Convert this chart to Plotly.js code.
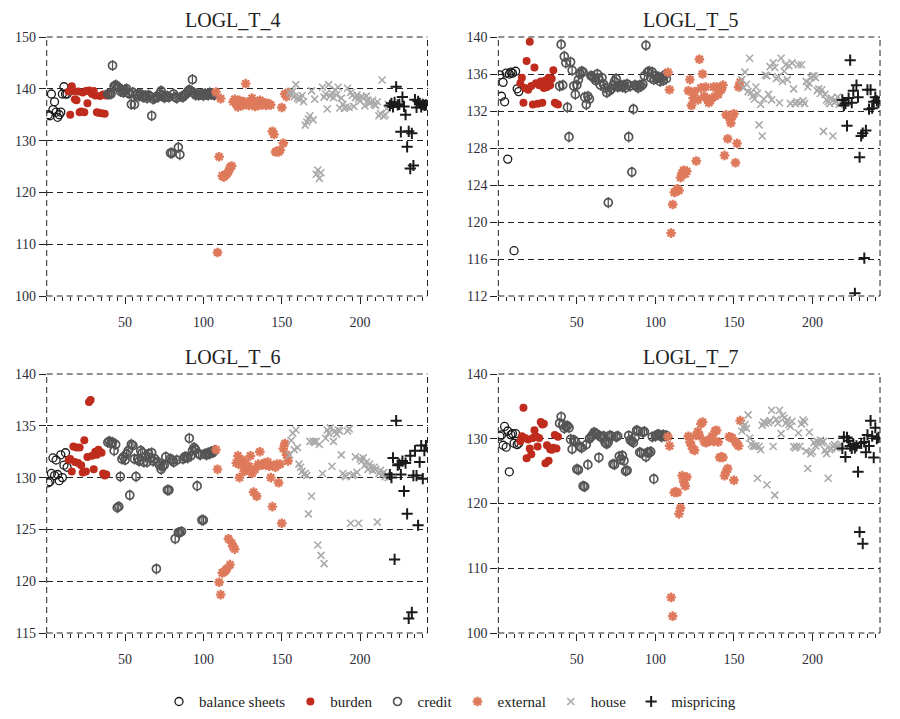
<!DOCTYPE html>
<html>
<head>
<meta charset="utf-8">
<script src="https://cdn.plot.ly/plotly-3.0.1.min.js"></script>
<style>html,body{margin:0;padding:0;background:#fff;}#chart{width:900px;height:719px;}</style>
</head>
<body>
<div id="chart"></div>
<script>
// Categories and first observation index of each category
const categories = ['balance sheets', 'burden', 'credit', 'external', 'house', 'mispricing'];
const catStart = [1, 14, 39, 108, 155, 219];
const panelTitles = ['LOGL_T_4', 'LOGL_T_5', 'LOGL_T_6', 'LOGL_T_7'];
const xTickVals = [50, 100, 150, 200];

// ---- LOGL_T_4 ----
const T4_balance = [135, 134.8, 139, 136, 137.5, 135.5, 134.5, 135, 135.5, 139, 140.4, 139, 139];
const T4_burden = [139.5, 135, 140.5, 139.6, 138, 137.8, 139.5, 135.5, 135.6, 139.3, 135.5, 139.6, 137.2, 139.7, 139.4, 139, 139.6, 138.7, 135.5, 135.4, 138.6, 135.3, 138.9, 135.2, 138.7];
const T4_credit = [139, 139, 139, 144.5, 140.5, 140.7, 140.5, 140.2, 139.5, 139.8,
  139.3, 139.8, 140, 139.2, 139, 137, 139.3, 137, 138.8, 139,
  138.6, 139, 138.5, 138.4, 138.7, 138.2, 138.8, 138.5, 134.8, 138,
  138.2, 138.5, 138.4, 139, 139.6, 138.8, 138.3, 138.5, 138.6, 138.4,
  127.6, 127.6, 139, 138.4, 138.2, 128.7, 127.3, 138.5, 138.4, 138.8,
  139, 139.5, 139.8, 139.6, 141.8, 139.2, 138.8, 139, 138.8, 138.9,
  139, 138.7, 139.1, 138.9, 138.8, 139.2, 138.9, 139, 138.8];
const T4_external = [139.4, 108.4, 126.9, 138.1, 123.2, 123, 123.3, 123.6, 124, 124.8,
  125.1, 137.5, 138, 137, 136.5, 137.8, 137.2, 136.8, 137.5, 141,
  137.3, 136.8, 137.6, 138.2, 137, 136.6, 137.2, 136.8, 137.8, 136.9,
  137.1, 137.3, 136.8, 137.2, 137, 136.9, 131.8, 131.2, 127.8, 128,
  127.8, 128.2, 136.4, 129.5, 139, 138.5, 139.3];
const T4_house = [139.3, 138.8, 139.5, 138.5, 140.8, 138.2, 137.9, 138.2, 138.7, 137.5,
  133, 133.6, 134.2, 134.8, 139.6, 134, 138, 123.5, 124.3, 122.7,
  123.8, 140.3, 138.4, 139, 136.1, 140.8, 138.6, 139.2, 138.3, 139.8,
  138.8, 140.3, 136.3, 138.2, 137, 136.2, 136.5, 140.1, 136.4, 139.3,
  138.7, 136.6, 138.3, 138.8, 138.1, 137.6, 138.5, 138.2, 136.7, 138.6,
  137.8, 137.2, 137.4, 137.8, 137, 136.8, 137.5, 134.8, 135.2, 141.7,
  134.7, 135, 136.2, 137];
const T4_mispricing = [136.8, 137.2, 136.5, 137.4, 140.4, 136.9, 137, 131.7, 138.4, 136.6, 135, 128.8, 131.8, 124.6, 131.4, 125.2, 137.9, 136.4, 137.6, 137.2, 136.5, 137, 136.8, 136.9];

// ---- LOGL_T_5 ----
const T5_balance = [135.9, 133.6, 135.1, 133, 136.1, 126.8, 136, 136.2, 136.1, 116.9, 136.3, 134.4, 134.1];
const T5_burden = [135, 135.6, 132.9, 134.5, 137.4, 134.3, 139.5, 134.7, 132.7, 136.7, 135, 132.8, 134.8, 135.2, 132.9, 134.5, 135.3, 134.6, 135.6, 134.8, 135.5, 136.4, 132.9, 132.8, 132.7];
const T5_credit = [134.7, 139.2, 134.8, 137.9, 137.2, 132.4, 129.2, 137.3, 136.4, 134.7,
  133.8, 134.8, 135.4, 136, 136.3, 136.2, 133.5, 132.7, 133.6, 133.3,
  135.8, 135.7, 135.6, 135.3, 136, 135.5, 134.8, 135.6, 134.9, 134.5,
  134, 122.1, 134.2, 134.4, 134.8, 135.2, 135.5, 134.6, 134.7, 134.8,
  134.6, 134.8, 134.5, 134.9, 129.2, 134.7, 125.4, 132.2, 134.8, 134.7,
  134.5, 134.8, 134.7, 134.9, 135.8, 139.1, 136.2, 136.3, 135.6, 136.2,
  135.4, 135.8, 135.5, 135.7, 135.2, 135.6, 135.3, 135.9, 135.5];
const T5_external = [136.2, 134.3, 118.8, 121.9, 123.2, 123.3, 123.6, 123.4, 124.8, 125.3,
  125.6, 125.2, 125.5, 134.2, 135.4, 132.6, 133.4, 134.1, 126.6, 133.2,
  137.6, 134.5, 136, 133.6, 134.6, 133.3, 132.9, 133.1, 133.4, 134.6,
  133.6, 134.6, 133.8, 134.5, 134.3, 134.8, 127.2, 131.6, 129, 131.3,
  130.7, 131.4, 131.7, 126.4, 128.5, 134.6, 135.1];
const T5_house = [135.4, 134.5, 136.2, 134.9, 134.1, 137.7, 134, 133.6, 133.3, 134.6,
  133.9, 130.5, 132.7, 129.3, 133.3, 135.9, 135.8, 133.8, 136.8, 133.2,
  137.2, 136.7, 135.5, 135.7, 132.9, 137.7, 135.2, 136.3, 137, 135.4,
  136.9, 132.8, 137.2, 134.4, 132.8, 133, 137, 132.9, 137, 133.1,
  132.8, 135.2, 134.6, 135, 135.6, 135.8, 135.8, 135.6, 134.2, 134.4,
  133.9, 134.3, 129.8, 133.8, 133.2, 133, 132.8, 133.4, 129.3, 132.9,
  133.1, 133.5, 132.7, 133];
const T5_mispricing = [133.2, 132.6, 132.8, 130.4, 133.4, 137.5, 132.9, 134.2, 112.3, 134.8, 133.5, 127, 129.3, 129.6, 116.1, 129.9, 134.3, 132.2, 134.3, 132.3, 133, 133.5, 133.1, 132.9];

// ---- LOGL_T_6 ----
const T6_balance = [129.5, 129.6, 130.4, 131.9, 130.2, 131.7, 130.3, 129.7, 132.2, 130, 131.2, 132.4, 131];
const T6_burden = [131.7, 131.8, 130.6, 133, 131.5, 132.9, 131.4, 132.9, 131.2, 130.5, 133.6, 130.6, 132, 137.3, 137.5, 132.1, 130.8, 132.5, 132.2, 132.7, 132.5, 132.4, 130.4, 130.2, 130.3];
const T6_credit = [133.4, 133.5, 133.3, 133.4, 132.6, 133.2, 127.1, 127.2, 130.1, 131.8,
  132, 131.7, 132.3, 132.6, 128.3, 133.2, 133.1, 131.8, 130.1, 131.8,
  131.6, 132.6, 132.4, 131.5, 132, 131.5, 132.3, 131.9, 132.4, 131.6,
  131.8, 121.2, 131.5, 131.2, 130.8, 131.1, 131.2, 132, 128.8, 128.8,
  131.8, 131.7, 131.5, 124.1, 131.7, 124.7, 124.7, 124.8, 131.8, 132,
  132, 131.9, 133.8, 132.1, 132.6, 132.9, 132.7, 129.2, 132.3, 132.2,
  125.9, 125.9, 132.3, 132.2, 132.4, 132.3, 132.5, 132.4, 132.6];
const T6_external = [132.7, 130.8, 119.9, 118.7, 120.8, 120.9, 121, 121.2, 124.1, 121.6,
  123.7, 123.3, 123.1, 131.4, 132.1, 130, 131.2, 131.7, 130.6, 131.4,
  130.9, 131.1, 132.1, 130.4, 128.6, 130.8, 128.2, 131.3, 132.5, 131.2,
  131.3, 131.4, 131.2, 131.5, 131.1, 130, 127.2, 131.2, 131, 131.3,
  129.5, 131.3, 125.6, 132.8, 133.3, 132.2, 131.6];
const T6_house = [132.2, 133.6, 134.3, 132.7, 134.6, 132.9, 131.3, 131, 130.6, 130.3,
  130.4, 130.2, 126.5, 133.5, 128.2, 133.5, 133.4, 133.5, 123.5, 133.2,
  122.5, 130.4, 121.7, 133.8, 134.6, 134.3, 134.8, 131.1, 133.5, 134.5,
  134.2, 134.6, 134.5, 132.2, 130.4, 130.2, 130.1, 134.5, 134.7, 125.6,
  130.2, 130.3, 132, 130.5, 125.6, 131.8, 131.6, 131.9, 131.2, 131.5,
  130.8, 131.3, 131, 130.7, 131, 130.8, 125.7, 130.4, 130.7, 130.3,
  130.5, 130.1, 130.3, 130];
const T6_mispricing = [130.3, 130, 131.9, 122.1, 135.5, 131.2, 131.3, 130.3, 131.6, 128.7, 131.4, 126.5, 116.4, 132.1, 117, 130.2, 132.6, 130.2, 125.4, 131.5, 133.1, 129.9, 132.6, 133.1];

// ---- LOGL_T_7 ----
const T7_balance = [130.4, 130.6, 129, 131.9, 128.7, 131.2, 124.9, 130.6, 130.8, 129.3, 130.8, 129.1, 129.3];
const T7_burden = [129.6, 130.4, 134.8, 130.1, 127, 129.9, 128.5, 127.6, 130.1, 131.3, 130.4, 128.8, 130.1, 132.6, 132.2, 132.3, 126.2, 129, 126.6, 128.4, 128.3, 128.6, 130.6, 128.5, 130.3];
const T7_credit = [132.4, 133.4, 132.2, 131.6, 131.9, 132, 131.7, 129.9, 128.4, 129.8,
  129.6, 125.3, 125.2, 128.8, 128.6, 122.7, 122.6, 129.1, 126, 130,
  130.3, 130.6, 131, 130.8, 130.7, 127.1, 130.3, 130.2, 130.4, 129.4,
  129.2, 129.5, 130.5, 130.4, 126.1, 126, 130.3, 130.4, 127.3, 126.8,
  127.4, 126.6, 125, 125.1, 130.5, 129.8, 129.6, 129.4, 130.2, 131.3,
  131.2, 127.9, 127.8, 131, 131.1, 127.2, 127.9, 127.8, 128, 130.3,
  123.8, 130.4, 130.6, 130.7, 130.5, 130.3, 130.6, 130.4, 130.5];
const T7_external = [130.3, 128.9, 105.5, 102.6, 121.7, 121.8, 121.7, 118.4, 119.3, 124.3,
  123.4, 122.7, 124.1, 130.4, 129.5, 128.9, 128.4, 128.2, 130.5, 131.1,
  130.5, 132.3, 132.6, 129.6, 129.4, 129.5, 129.8, 129.7, 130.4, 129.6,
  131.2, 131.3, 129.5, 127.1, 127.2, 127.1, 124.3, 124.9, 125.4, 130.3,
  130.2, 130.1, 123.6, 129.5, 129.2, 128.9, 132.8];
const T7_house = [131.2, 131.8, 132.2, 131.6, 133.7, 130.1, 129.2, 128.9, 128.8, 128.9,
  123.9, 128.8, 128.3, 132.1, 132.6, 132.4, 122.9, 132.5, 132.8, 134.4,
  128.8, 121.3, 133, 132.4, 134.4, 130.8, 133.6, 133.2, 132.4, 132.9,
  132.2, 131.9, 132.7, 128.8, 128.6, 128.8, 130.9, 128.8, 132.3, 132.9,
  132.6, 128.1, 125.4, 131, 127.7, 128, 129.4, 128.9, 129.6, 129.3,
  129.8, 129.4, 129.6, 128.2, 127.7, 123.9, 128.3, 128.5, 128.8, 129.1,
  128.6, 128.7, 128.9, 129.2];
const T7_mispricing = [128.5, 130.3, 127.2, 130.2, 129.7, 128.9, 128.5, 129.1, 128.6, 128.9, 124.9, 115.6, 129.3, 113.8, 129.5, 127.9, 130.6, 128.9, 132.8, 130.4, 127.1, 131.7, 130, 130.2];

const panelData = [
  [T4_balance, T4_burden, T4_credit, T4_external, T4_house, T4_mispricing],
  [T5_balance, T5_burden, T5_credit, T5_external, T5_house, T5_mispricing],
  [T6_balance, T6_burden, T6_credit, T6_external, T6_house, T6_mispricing],
  [T7_balance, T7_burden, T7_credit, T7_external, T7_house, T7_mispricing]
];
const yRanges = [[100, 150], [112, 140], [115, 140], [100, 140]];
const yDticks = [10, 4, 5, 10];

// ---- styles ----
const markerStyles = [
  {symbol: 'circle-open', size: 8, color: '#1a1a1a', line: {width: 1.3, color: '#1a1a1a'}},
  {symbol: 'circle', size: 8, color: '#bf2b1c', line: {width: 0}},
  {symbol: 'circle-open', size: 8, color: '#555555', line: {width: 1.7, color: '#555555'}},
  {symbol: 'asterisk-open', size: 8, color: '#de7a5b', line: {width: 2.4, color: '#de7a5b'}},
  {symbol: 'x-thin-open', size: 7, color: '#aaaaaa', line: {width: 1.6, color: '#aaaaaa'}},
  {symbol: 'cross-thin-open', size: 8, color: '#1a1a1a', line: {width: 2, color: '#1a1a1a'}}
];

const xDomains = [[0.0519, 0.4750], [0.5537, 0.9778], [0.0519, 0.4750], [0.5537, 0.9778]];
const yDomains = [[0.5883, 0.9485], [0.5883, 0.9485], [0.1196, 0.4798], [0.1196, 0.4798]];
const titlePos = [[0.259, 0.972], [0.768, 0.972], [0.259, 0.503], [0.768, 0.503]];

const FONT = '"Liberation Serif", "Times New Roman", serif';
const traces = [];
const layout = {
  width: 900, height: 719,
  margin: {l: 0, r: 0, t: 0, b: 0},
  paper_bgcolor: '#fff', plot_bgcolor: '#fff',
  font: {family: FONT, size: 14, color: '#2e2e3a'},
  showlegend: true,
  legend: {orientation: 'h', x: 0.5, xanchor: 'center', y: 0.024, yanchor: 'middle',
    font: {family: FONT, size: 15, color: '#222'}, itemwidth: 30, tracegroupgap: 0},
  annotations: [], shapes: []
};

panelData.forEach((series, p) => {
  const n = p === 0 ? '' : String(p + 1);
  const xa = 'x' + n, ya = 'y' + n;
  series.forEach((vals, c) => {
    const xs = vals.map((_, i) => catStart[c] + i);
    traces.push({
      type: 'scatter', mode: 'markers', x: xs, y: vals,
      xaxis: xa, yaxis: ya, name: categories[c],
      legendgroup: categories[c], showlegend: p === 0,
      marker: markerStyles[c], hoverinfo: 'skip'
    });
    if (c === 2) {
      traces.push({
        type: 'scatter', mode: 'markers', x: xs, y: vals,
        xaxis: xa, yaxis: ya, name: categories[c] + ' bar',
        legendgroup: categories[c], showlegend: false,
        marker: {symbol: 'line-ns-open', size: 8, color: '#555555', line: {width: 1.3, color: '#555555'}},
        hoverinfo: 'skip'
      });
    }
  });
  layout['xaxis' + n] = {
    domain: xDomains[p], anchor: ya, range: [0, 243],
    showgrid: false, zeroline: false, showline: false,
    tickmode: 'array', tickvals: xTickVals, ticktext: xTickVals.map(String),
    ticks: 'outside', ticklen: 7, tickcolor: '#222', tickwidth: 1,
    ticklabelstandoff: 6,
    minor: {tickmode: 'linear', tick0: 0, dtick: 5, ticks: 'outside', ticklen: 4, tickcolor: '#222', showgrid: false},
    tickfont: {family: FONT, size: 14, color: '#2e2e3a'}
  };
  layout['yaxis' + n] = {
    domain: yDomains[p], anchor: xa, range: yRanges[p],
    tickmode: 'linear', tick0: yRanges[p][0], dtick: yDticks[p],
    showgrid: true, gridcolor: '#222', gridwidth: 1, griddash: '6px,4px',
    zeroline: false, showline: false,
    ticks: 'outside', ticklen: 7, tickcolor: '#222', tickwidth: 1,
    tickfont: {family: FONT, size: 14, color: '#2e2e3a'}
  };
  layout.annotations.push({
    text: panelTitles[p], xref: 'paper', yref: 'paper',
    x: titlePos[p][0], y: titlePos[p][1], xanchor: 'center', yanchor: 'middle',
    showarrow: false, font: {family: FONT, size: 20, color: '#222'}
  });
  const frame = [[0, 0, 0, 1], [1, 0, 1, 1], [0, 1, 1, 1], [0, 0, 1, 0]];
  frame.forEach(f => {
    layout.shapes.push({
      type: 'line', xref: xa + ' domain', yref: ya + ' domain',
      x0: f[0], y0: f[1], x1: f[2], y1: f[3], layer: 'below',
      line: {color: '#222', width: 1, dash: '6px,4px'}
    });
  });
});

Plotly.newPlot('chart', traces, layout, {displayModeBar: false, staticPlot: true});
</script>
</body>
</html>
